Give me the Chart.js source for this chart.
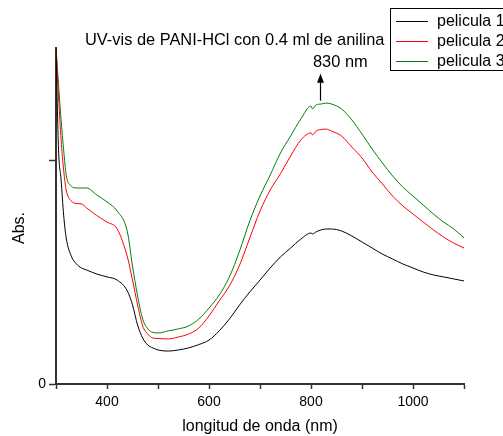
<!DOCTYPE html>
<html>
<head>
<meta charset="utf-8">
<script src="https://cdn.jsdelivr.net/npm/chart.js@4.4.1/dist/chart.umd.min.js"></script>
<style>
  body { margin: 0; background: #fff; }
  #wrap { width: 503px; height: 436px; position: relative; }
</style>
</head>
<body>
<div id="wrap"><canvas id="uvChart"></canvas></div>
<script>
// wavelength (nm) and absorbance
const wavelengths = [300, 305, 310, 315, 320, 330, 340, 350, 360, 380,
    400, 420, 440, 450, 460, 470, 480, 490, 500, 520,
    540, 560, 580, 600, 620, 640, 660, 680, 700, 720,
    740, 760, 780, 800, 803, 810, 820, 830, 840, 860,
    880, 900, 920, 940, 960, 980, 1000, 1020, 1040, 1060,
    1080, 1100];

const pelicula1 = [1.5, 1.045, 0.911, 0.754, 0.652, 0.571, 0.536, 0.518, 0.509, 0.491,
    0.478, 0.464, 0.415, 0.353, 0.263, 0.205, 0.174, 0.161, 0.152, 0.147,
    0.152, 0.161, 0.176, 0.196, 0.237, 0.290, 0.353, 0.411, 0.464, 0.518,
    0.567, 0.607, 0.647, 0.674, 0.670, 0.679, 0.688, 0.692, 0.692, 0.683,
    0.661, 0.634, 0.607, 0.580, 0.558, 0.536, 0.518, 0.500, 0.487, 0.478,
    0.469, 0.460];

const pelicula2 = [1.5, 1.281, 1.089, 0.955, 0.866, 0.817, 0.806, 0.804, 0.786, 0.752,
    0.723, 0.692, 0.567, 0.464, 0.353, 0.259, 0.223, 0.205, 0.203, 0.201,
    0.210, 0.223, 0.250, 0.304, 0.371, 0.438, 0.531, 0.652, 0.772, 0.866,
    0.938, 1.018, 1.089, 1.121, 1.112, 1.129, 1.136, 1.138, 1.129, 1.107,
    1.058, 1.009, 0.946, 0.893, 0.839, 0.795, 0.759, 0.723, 0.688, 0.656,
    0.629, 0.607];

const pelicula3 = [1.5, 1.335, 1.179, 1.045, 0.933, 0.884, 0.875, 0.875, 0.875, 0.844,
    0.813, 0.772, 0.679, 0.527, 0.393, 0.290, 0.246, 0.230, 0.228, 0.237,
    0.246, 0.259, 0.290, 0.339, 0.397, 0.478, 0.594, 0.728, 0.839, 0.933,
    1.031, 1.107, 1.183, 1.241, 1.228, 1.246, 1.250, 1.254, 1.250, 1.228,
    1.179, 1.116, 1.049, 0.987, 0.929, 0.879, 0.839, 0.799, 0.759, 0.723,
    0.692, 0.652];

const seriesNames = ['pelicula 1', 'pelicula 2', 'pelicula 3'];
const seriesColors = ['#000000', '#ff0000', '#008000'];

const xTicks = [300, 400, 500, 600, 700, 800, 900, 1000, 1100];
const xLabelled = [400, 600, 800, 1000];
const yTicks = [0, 1];
const yLabelled = [0];

// peak marker
const peakText = '830 nm';
const peakArrowX = 818;
const peakArrowFrom = 1.265;
const peakArrowTo = 1.385;

const chartTitle = 'UV-vis de PANI-HCl con 0.4 ml de anilina';
const FONT = '"Liberation Sans", Arial, sans-serif';

function toPoints(ys) {
    return wavelengths.map((w, i) => ({ x: w, y: ys[i] }));
}

// title, arrow, legend and y label drawn by hand
const extras = {
    id: 'extras',
    afterDraw(chart) {
        const c = chart.ctx;
        const xs = chart.scales.x, ys = chart.scales.y;
        c.save();
        c.fillStyle = '#000';
        c.strokeStyle = '#000';
        c.font = '16.4px ' + FONT;
        c.textBaseline = 'middle';
        c.textAlign = 'left';
        c.fillText(chartTitle, 85, 40);
        c.fillText(peakText, 313, 62);

        // arrow
        const ax = Math.round(xs.getPixelForValue(peakArrowX)) + 0.5;
        const y0 = ys.getPixelForValue(peakArrowFrom);
        const y1 = ys.getPixelForValue(peakArrowTo);
        c.lineWidth = 1.2;
        c.beginPath();
        c.moveTo(ax, y0);
        c.lineTo(ax, y1 + 5);
        c.stroke();
        c.beginPath();
        c.moveTo(ax, y1);
        c.lineTo(ax - 3.5, y1 + 9);
        c.lineTo(ax + 3.5, y1 + 9);
        c.closePath();
        c.fill();

        // legend
        c.font = '16px ' + FONT;
        c.lineWidth = 1;
        c.strokeStyle = '#000';
        c.strokeRect(390.5, 8.5, 130, 62);
        seriesNames.forEach((name, i) => {
            const y = 21 + i * 20;
            c.strokeStyle = seriesColors[i];
            c.beginPath();
            c.moveTo(396, y + 0.5);
            c.lineTo(428, y + 0.5);
            c.stroke();
            c.fillStyle = '#000';
            c.fillText(name, 437, y + 1);
        });

        // y axis label
        c.translate(20, 228);
        c.rotate(-Math.PI / 2);
        c.textAlign = 'center';
        c.fillText('Abs.', 0, 0);
        c.restore();
    }
};

const ctx = document.getElementById('uvChart').getContext('2d');
const uvChart = new Chart(ctx, {
    type: 'line',
    data: {
        datasets: [pelicula1, pelicula2, pelicula3].map((ys, i) => ({
            label: seriesNames[i],
            data: toPoints(ys),
            borderColor: seriesColors[i],
            borderWidth: 1,
            pointRadius: 0,
            cubicInterpolationMode: 'monotone',
            fill: false
        }))
    },
    options: {
        responsive: true,
        maintainAspectRatio: false,
        animation: false,
        layout: { padding: { top: 48, right: 39, left: 0, bottom: 0 } },
        plugins: {
            legend: { display: false },
            tooltip: { enabled: false }
        },
        scales: {
            x: {
                type: 'linear',
                min: 300,
                max: 1100,
                afterBuildTicks: s => { s.ticks = xTicks.map(v => ({ value: v })); },
                afterFit: s => { s.height = 52; },
                grid: { drawOnChartArea: false, drawTicks: true, tickLength: 5, color: '#333', tickWidth: 1.5 },
                border: { color: '#333', width: 2 },
                ticks: {
                    color: '#000',
                    font: { family: FONT, size: 14 },
                    padding: 5,
                    maxRotation: 0,
                    autoSkip: false,
                    callback: v => xLabelled.includes(v) ? String(v) : ''
                },
                title: {
                    display: true,
                    text: 'longitud de onda (nm)',
                    color: '#000',
                    font: { family: FONT, size: 16 },
                    padding: 0
                }
            },
            y: {
                min: 0,
                max: 1.5,
                afterBuildTicks: s => { s.ticks = yTicks.map(v => ({ value: v })); },
                afterFit: s => { s.width = 56; },
                grid: { drawOnChartArea: false, drawTicks: true, tickLength: 7, color: '#333', tickWidth: 1.5 },
                border: { color: '#333', width: 2 },
                ticks: {
                    color: '#000',
                    font: { family: FONT, size: 14 },
                    padding: 3,
                    callback: v => yLabelled.includes(v) ? String(v) : ''
                }
            }
        }
    },
    plugins: [extras]
});
</script>
</body>
</html>
